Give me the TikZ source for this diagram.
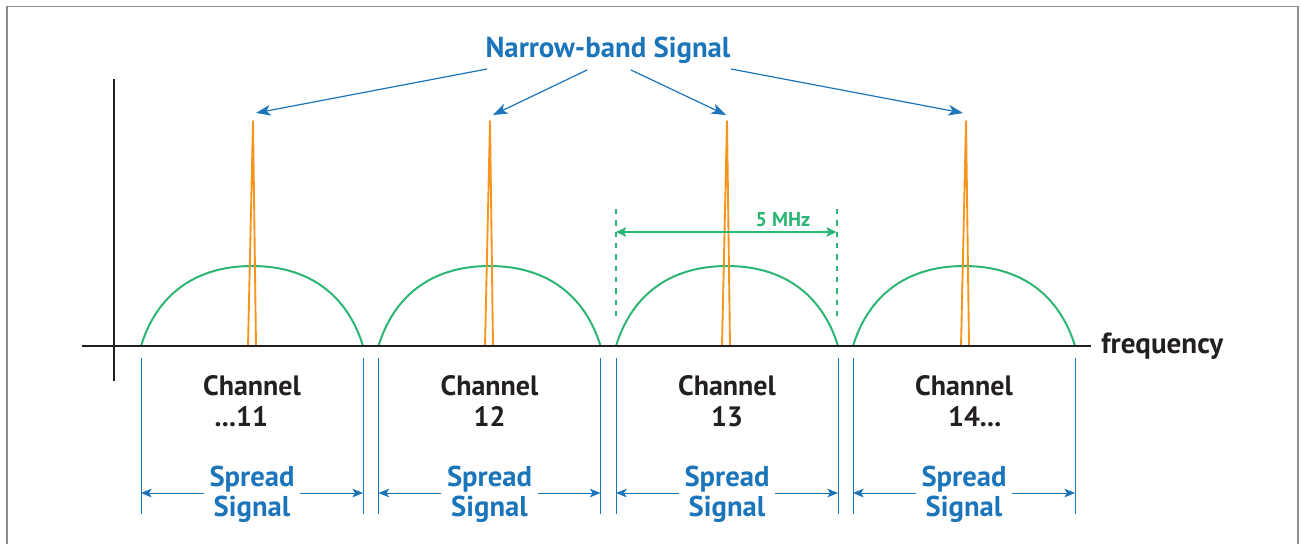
\documentclass[tikz,border=0pt]{standalone}
\usepackage{fontspec}
\setmainfont{PT Sans}
\usetikzlibrary{arrows.meta}
\definecolor{sblue}{HTML}{1B75BB}
\definecolor{sgreen}{HTML}{2BB673}
\definecolor{sorange}{HTML}{F7941D}
\definecolor{sblack}{HTML}{231F20}
\begin{document}
\begin{tikzpicture}[x=0.75pt,y=-0.75pt,
  frame/.style={draw=black!45,line width=1.1pt},
  axis/.style={draw=sblack,line width=2.2pt},
  yaxis/.style={draw=sblack,line width=1.5pt},
  dome/.style={draw=sgreen,line width=1.5pt},
  spike/.style={draw=sorange,line width=1.4pt,line join=round},
  titlearrow/.style={draw=sblue,line width=0.9pt,-{Stealth[length=11pt,width=8pt,inset=3pt]}},
  spreadline/.style={draw=sblue,line width=0.7pt},
  spreadarrow/.style={draw=sblue,line width=0.7pt,-{Stealth[length=8pt,width=6.5pt,inset=2pt]}},
  mhzdash/.style={draw=sgreen,line width=1.5pt,dash pattern=on 4pt off 4.5pt},
  mhzarrow/.style={draw=sgreen,line width=1.5pt,{Stealth[length=7.5pt,width=7pt,inset=1.5pt]}-{Stealth[length=7.5pt,width=7pt,inset=1.5pt]}},
  titletext/.style={text=sblue,font=\fontsize{21.6}{25}\selectfont\bfseries,inner sep=2pt},
  chantext/.style={text=sblack,font=\fontsize{21}{23.25}\selectfont\bfseries,align=center,inner sep=2pt},
  spreadtext/.style={text=sblue,font=\fontsize{21.5}{22.5}\selectfont\bfseries,align=center,inner sep=4pt},
  freqtext/.style={text=sblack,font=\fontsize{21.8}{24}\selectfont\bfseries,anchor=west,inner sep=0pt},
  mhztext/.style={text=sgreen,font=\fontsize{15}{17}\selectfont\bfseries,inner sep=1pt}]
\useasboundingbox (0,0) rectangle (1301,544);
\fill[white] (0,0) rectangle (1301,544);
% frame
\draw[frame] (7,544) -- (7,6.5) -- (1298,6.5) -- (1298,544);

% domes
\foreach \c in {252,489.5,727,964}{
  \draw[dome] (\c-111,346) .. controls (\c-97,300) and (\c-62,266) .. (\c,266)
              .. controls (\c+62,266) and (\c+97,300) .. (\c+111,346);
}
% spikes
\foreach \c in {252,489,726,965}{
  \draw[spike] (\c-4,346) -- (\c+1,121) -- (\c+4,346);
}

% axes
\node[freqtext] (freq) at (1101,346) {frequency};
\coordinate (xa) at (82,346);
\coordinate (xb) at (1091,346);
\draw[axis] (xa) -- (xb);
\coordinate (ya) at (114,79);
\coordinate (yb) at (114,381);
\draw[yaxis] (ya) -- (yb);

% title and arrows
\node[titletext] (title) at (608,50) {Narrow-band Signal};
\coordinate (s1) at (487,69);
\coordinate (s2) at (587,70);
\coordinate (s3) at (631,70);
\coordinate (s4) at (731,69);
\coordinate (t1) at (256,113);
\coordinate (t2) at (493,115);
\coordinate (t3) at (726,115);
\coordinate (t4) at (963,113);
\draw[titlearrow] (s1) -- (t1);
\draw[titlearrow] (s2) -- (t2);
\draw[titlearrow] (s3) -- (t3);
\draw[titlearrow] (s4) -- (t4);

% 5 MHz
\coordinate (m1t) at (616,209);
\coordinate (m1b) at (616,321);
\coordinate (m2t) at (836.5,209);
\coordinate (m2b) at (836.5,321);
\draw[mhzdash] (m1t) -- (m1b);
\draw[mhzdash] (m2t) -- (m2b);
\coordinate (ma) at (616,232);
\coordinate (mb) at (836.5,232);
\draw[mhzarrow] (ma) -- (mb);
\node[mhztext] (mhz) at (783,220) {5 MHz};

% channel labels
\node[chantext] (ch1) at (252,401) {Channel\\\llap{...}11};
\node[chantext] (ch2) at (489.5,401) {Channel\\12};
\node[chantext] (ch3) at (727,401) {Channel\\13};
\node[chantext] (ch4) at (964,401) {Channel\\14\rlap{...}};

% spread signal
\foreach \i/\c in {1/252,2/489.5,3/727,4/964}{
  \coordinate (L\i t) at (\c-111,358);
  \coordinate (L\i b) at (\c-111,514);
  \coordinate (R\i t) at (\c+111,358);
  \coordinate (R\i b) at (\c+111,514);
  \coordinate (L\i m) at (\c-111,493);
  \coordinate (R\i m) at (\c+111,493);
  \draw[spreadline] (L\i t) -- (L\i b);
  \draw[spreadline] (R\i t) -- (R\i b);
  \node[spreadtext] (sp\i) at (\c,494) {Spread\\Signal};
  \draw[spreadarrow] (sp\i.west |- L\i m) -- (L\i m);
  \draw[spreadarrow] (sp\i.east |- R\i m) -- (R\i m);
}
\end{tikzpicture}
\end{document}
